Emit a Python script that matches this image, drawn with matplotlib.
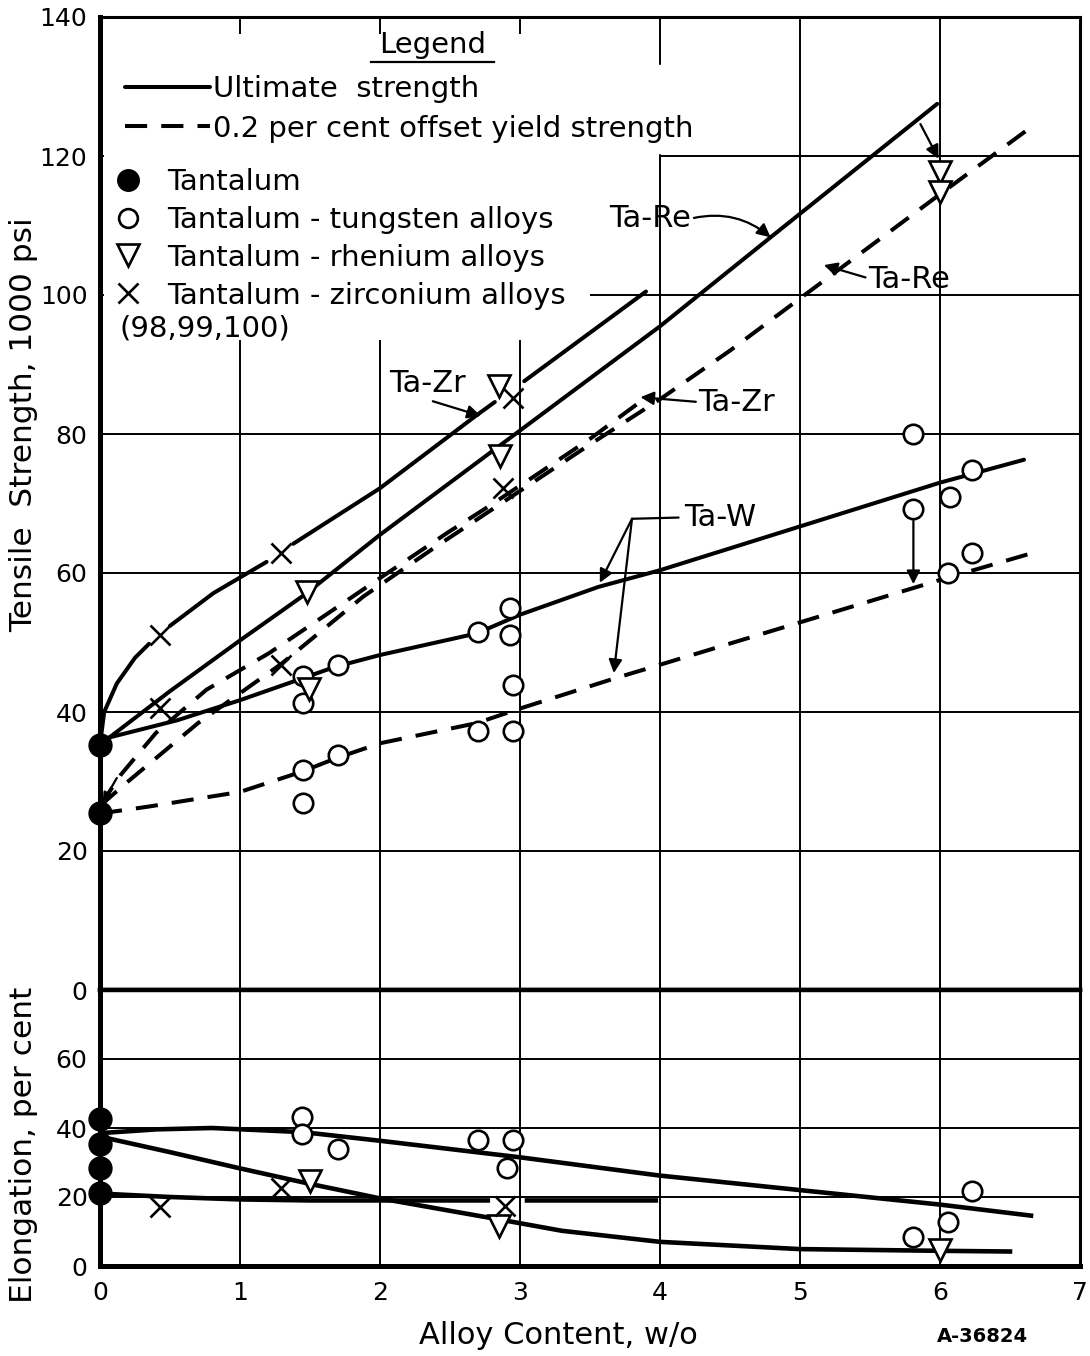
import numpy as np
import matplotlib.pyplot as plt
from matplotlib.lines import Line2D
from matplotlib.patches import Rectangle

plt.rcParams['font.family'] = ['DejaVu Sans']

# --- data (alloy content in w/o) ---
# tensile strength, 1000 psi
ta_x = [0, 0]
ta_ts = [35.3, 25.5]

tw_x = [1.45, 1.45, 1.45, 1.45, 1.70, 1.70, 2.70, 2.70, 2.93, 2.93, 2.95, 2.95,
        5.81, 5.81, 6.06, 6.07, 6.23, 6.23]
tw_ts = [45.2, 41.3, 31.7, 26.9, 46.8, 33.8, 51.5, 37.3, 55.0, 51.1, 43.9, 37.3,
         80.0, 69.2, 60.0, 70.9, 74.8, 62.9]

tre_x = [1.48, 1.49, 2.85, 2.86, 6.0, 6.0]
tre_ts = [57.2, 43.3, 86.9, 76.8, 117.7, 114.8]

tzr_x = [0.43, 0.43, 1.29, 1.29, 2.88, 2.95]
tzr_ts = [51.1, 40.6, 62.9, 46.8, 72.3, 85.2]

# curves (nan = gap left round a marker on the drawing)
tzr_ult_x = [0, 0.03, 0.12, 0.25, 0.35, np.nan, 0.5, 0.81, 1.19, np.nan, 1.38, 2.0, 2.69, 2.82, np.nan, 3.03, 3.9]
tzr_ult_y = [35.3, 40.0, 44.1, 47.8, 49.8, np.nan, 52.4, 57.1, 61.6, np.nan, 64.2, 72.2, 82.7, 84.6, np.nan, 87.6, 100.5]

tre_ult_x = [0, 0.5, 1.0, 1.47, 2.0, 3.0, 4.0, 4.79, 5.98]
tre_ult_y = [35.3, 43.0, 50.3, 57.0, 65.5, 80.5, 95.5, 108.3, 127.5]

tw_ult_x = [0, 0.55, 1.0, 1.44, 1.68, 2.0, 2.69, 3.0, 3.56, 4.0, 5.0, 6.0, 6.6]
tw_ult_y = [36.0, 38.8, 41.7, 44.8, 46.5, 48.2, 51.3, 54.0, 58.0, 60.4, 66.7, 73.0, 76.3]

tw_ys_x = [0, 0.35, 1.0, 1.44, 1.68, 2.0, 2.69, 3.0, 3.67, 4.0, 5.0, 6.0, 6.63]
tw_ys_y = [25.4, 26.4, 28.5, 31.4, 33.3, 35.5, 38.4, 40.5, 44.8, 46.8, 52.9, 59.0, 62.7]

tzr_ys_x = [0, 0.15, 0.4, 0.76, 1.21, 1.49, 1.98, 2.49, 2.77, 3.1, 3.5, 3.85]
tzr_ys_y = [26.5, 31.0, 37.0, 43.2, 48.5, 52.3, 59.0, 65.9, 69.5, 73.9, 79.3, 84.5]

tre_ys_x = [0, 0.2, 0.7, 1.3, 1.88, 2.4, 2.94, 3.5, 4.0, 4.5, 5.0, 5.5, 6.0, 6.64]
tre_ys_y = [26.5, 30.0, 38.4, 47.0, 56.6, 63.8, 71.0, 78.5, 85.0, 92.0, 99.5, 107.0, 114.5, 124.0]

# elongation, per cent
ta_el_x = [0, 0, 0, 0]
ta_el = [42.5, 35.5, 28.4, 21.2]

tw_el_x = [1.44, 1.44, 1.70, 2.70, 2.95, 2.91, 5.81, 6.06, 6.23]
tw_el = [43.3, 38.3, 34.0, 36.6, 36.6, 28.4, 8.4, 12.8, 21.7]

tre_el_x = [1.5, 2.85, 6.0]
tre_el = [24.5, 11.5, 4.6]

tzr_el_x = [0.43, 1.29, 2.89]
tzr_el = [17.0, 22.5, 17.5]

tw_elc_x = [0, 0.4, 0.8, 1.45, 2.0, 3.0, 4.0, 5.0, 6.0, 6.65]
tw_elc_y = [38.5, 39.6, 40.0, 38.8, 36.3, 31.5, 26.2, 22.0, 17.8, 14.6]

tre_elc_x = [0, 0.5, 1.0, 1.5, 2.0, 2.5, 2.85, 3.3, 4.0, 5.0, 6.0, 6.5]
tre_elc_y = [37.5, 33.0, 28.3, 23.8, 19.6, 16.0, 13.5, 10.2, 7.0, 4.9, 4.4, 4.2]

tzr_elc_x = [0, 0.5, 1.0, 1.5, 2.0, 2.77, np.nan, 3.05, 3.97]
tzr_elc_y = [21.0, 20.0, 19.3, 19.0, 19.0, 19.0, np.nan, 19.0, 19.0]

x_ticks = [0, 1, 2, 3, 4, 5, 6, 7]
ts_ticks = [0, 20, 40, 60, 80, 100, 120, 140]
el_ticks = [0, 20, 40, 60, 80]
el_ticklabels = ['0', '20', '40', '60', '']

# --- figure ---
W, H = 1090, 1356
fig = plt.figure(figsize=(W / 100, H / 100), dpi=100)
ax1 = fig.add_axes([100 / W, 1 - 990 / H, 980 / W, 973 / H])
ax2 = fig.add_axes([100 / W, 1 - 1266 / H, 980 / W, 276 / H])

solid = dict(color='k', lw=2.9, solid_capstyle='round')
dash = dict(color='k', lw=2.9, ls=(0, (5.5, 3.5)), dash_capstyle='butt')
fs = 21      # legend text
fa = 22      # curve labels

for ax in (ax1, ax2):
    ax.set_xlim(0, 7)
    ax.set_xticks(x_ticks)
    ax.grid(True, color='k', lw=1.4)
    ax.set_axisbelow(True)
    ax.tick_params(length=0, labelsize=18, pad=9)
    ax.spines['left'].set_linewidth(3.6)
    ax.spines['right'].set_linewidth(2.2)

ax1.set_ylim(0, 140)
ax1.set_yticks(ts_ticks)
ax1.tick_params(labelbottom=False)
ax1.spines['top'].set_linewidth(2.2)
ax1.spines['bottom'].set_linewidth(3.2)

ax2.set_ylim(0, 80)
ax2.set_yticks(el_ticks)
ax2.set_yticklabels(el_ticklabels)
ax2.spines['top'].set_linewidth(3.2)
ax2.spines['bottom'].set_linewidth(3.6)
ax2.tick_params(axis='x', pad=11)

# blank area behind the legend (grid is not drawn there)
ax1.add_patch(Rectangle((0.004, 0.668), 0.496, 0.315, transform=ax1.transAxes,
                        facecolor='white', edgecolor='none', zorder=1))
ax1.add_patch(Rectangle((0.5, 0.84), 0.07, 0.143, transform=ax1.transAxes,
                        facecolor='white', edgecolor='none', zorder=1))

# curves, tensile
ax1.plot(tzr_ult_x, tzr_ult_y, **solid)
ax1.plot(tre_ult_x, tre_ult_y, **solid)
ax1.plot(tw_ult_x, tw_ult_y, **solid)
ax1.plot(tw_ys_x, tw_ys_y, **dash)
ax1.plot(tzr_ys_x, tzr_ys_y, **dash)
ax1.plot(tre_ys_x, tre_ys_y, **dash)

# curves, elongation
ax2.plot(tw_elc_x, tw_elc_y, color='k', lw=3.3)
ax2.plot(tre_elc_x, tre_elc_y, color='k', lw=3.3)
ax2.plot(tzr_elc_x, tzr_elc_y, color='k', lw=3.3)

# points
def points(ax, x, y, kind):
    if kind == 'ta':
        ax.plot(x, y, 'o', ms=16.5, mfc='k', mec='k', ls='none', clip_on=False, zorder=6)
    elif kind == 'w':
        ax.plot(x, y, 'o', ms=14, mfc='white', mec='k', mew=1.9, ls='none', clip_on=False, zorder=5)
    elif kind == 're':
        ax.plot(x, y, 'v', ms=15.5, mfc='white', mec='k', mew=1.9, ls='none', clip_on=False, zorder=5)
    else:
        ax.plot(x, y, 'x', ms=14.5, mec='k', mew=1.9, ls='none', clip_on=False, zorder=5)

points(ax1, tw_x, tw_ts, 'w')
points(ax1, tre_x, tre_ts, 're')
points(ax1, tzr_x, tzr_ts, 'zr')
points(ax1, ta_x, ta_ts, 'ta')
points(ax2, tw_el_x, tw_el, 'w')
points(ax2, tre_el_x, tre_el, 're')
points(ax2, tzr_el_x, tzr_el, 'zr')
points(ax2, ta_el_x, ta_el, 'ta')

# labels with arrows
arrow = dict(arrowstyle='-|>', color='k', lw=1.6, mutation_scale=20, shrinkA=0, shrinkB=0)

ax1.annotate('Ta-Re', xy=(4.79, 108.3), xytext=(3.93, 111.0), fontsize=fa, ha='center', va='center',
             arrowprops=dict(arrow, relpos=(1, 0.5), connectionstyle='arc3,rad=-0.25'))
ax1.annotate('Ta-Re', xy=(5.17, 104.3), xytext=(5.78, 102.2), fontsize=fa, ha='center', va='center',
             arrowprops=dict(arrow, relpos=(0, 0.55)))
ax1.annotate('Ta-Zr', xy=(2.72, 82.6), xytext=(2.34, 87.2), fontsize=fa, ha='center', va='center',
             arrowprops=dict(arrow, relpos=(0.45, 0)))
ax1.annotate('Ta-Zr', xy=(3.86, 85.3), xytext=(4.55, 84.6), fontsize=fa, ha='center', va='center',
             arrowprops=dict(arrow, relpos=(0, 0.5)))
ax1.annotate('Ta-W', xy=(3.80, 67.8), xytext=(4.43, 68.0), fontsize=fa, ha='center', va='center',
             arrowprops=dict(arrowstyle='-', color='k', lw=1.6, shrinkA=2, shrinkB=0, relpos=(0, 0.5)))
ax1.annotate('', xy=(3.57, 58.6), xytext=(3.80, 67.8), arrowprops=arrow)
ax1.annotate('', xy=(3.67, 45.6), xytext=(3.80, 67.8), arrowprops=arrow)
ax1.annotate('', xy=(5.81, 58.4), xytext=(5.81, 67.5), arrowprops=arrow)
ax1.annotate('', xy=(5.99, 119.6), xytext=(5.86, 124.6), arrowprops=arrow)
ax1.annotate('', xy=(0.02, 27.0), xytext=(0.12, 30.5), arrowprops=dict(arrow, mutation_scale=14))

# legend
ax1.text(0.339, 0.971, 'Legend', transform=ax1.transAxes, fontsize=fs, ha='center', va='center', zorder=6)
h1 = [Line2D([], [], **solid), Line2D([], [], **dash)]
leg1 = ax1.legend(h1, ['Ultimate  strength', '0.2 per cent offset yield strength'],
                  fontsize=fs, loc='upper left', bbox_to_anchor=(0.0153, 0.951), borderaxespad=0,
                  borderpad=0.35, handlelength=2.9, handletextpad=0.1, labelspacing=0.4,
                  frameon=True, fancybox=False, facecolor='white', edgecolor='white', framealpha=1)
ax1.add_artist(leg1)

h2 = [Line2D([], [], marker='o', ms=15.5, mfc='k', mec='k', ls='none'),
      Line2D([], [], marker='o', ms=13.5, mfc='white', mec='k', mew=1.9, ls='none'),
      Line2D([], [], marker='v', ms=15.5, mfc='white', mec='k', mew=1.9, ls='none'),
      Line2D([], [], marker='x', ms=14.5, mec='k', mew=1.9, ls='none')]
leg2 = ax1.legend(h2, ['Tantalum', 'Tantalum - tungsten alloys', 'Tantalum - rhenium alloys',
                       'Tantalum - zirconium alloys'],
                  fontsize=fs, loc='upper left', bbox_to_anchor=(0.006, 0.854), borderaxespad=0,
                  borderpad=0.3, handlelength=0.9, handletextpad=0.9, labelspacing=0.34,
                  frameon=True, fancybox=False, facecolor='white', edgecolor='white', framealpha=1)
ax1.text(0.02, 0.68, '(98,99,100)', transform=ax1.transAxes, fontsize=fs, va='center', ha='left',
         zorder=6)

# underline the legend title
fig.canvas.draw()
bb = [t for t in ax1.texts if t.get_text() == 'Legend'][0].get_window_extent()
fig.add_artist(Line2D([bb.x0 - 8, bb.x1 + 8], [bb.y0 - 3, bb.y0 - 3], color='k', lw=1.6, transform=None))

# axis titles
fig.text(24 / W, 1 - 425 / H, 'Tensile  Strength, 1000 psi', rotation=90, fontsize=22.5, ha='center', va='center')
fig.text(24 / W, 1 - 1145 / H, 'Elongation, per cent', rotation=90, fontsize=22.5, ha='center', va='center')
fig.text(558 / W, 1 - 1336 / H, 'Alloy Content, w/o', fontsize=22, ha='center', va='center')
fig.text(982 / W, 1 - 1336 / H, 'A-36824', fontsize=14, fontweight='bold', ha='center', va='center')

fig.savefig('out.png', dpi=100)
